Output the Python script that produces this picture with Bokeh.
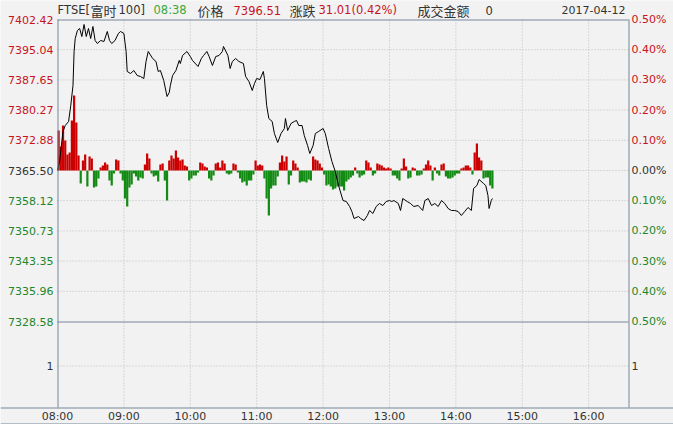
from bokeh.plotting import figure
from bokeh.models import Range1d, ColumnDataSource
from bokeh.core.properties import value
from bokeh.embed import file_html
from bokeh.resources import INLINE

# ---------------- data ----------------
base_price = 7365.50
price_ticks = [7402.42, 7395.04, 7387.65, 7380.27, 7372.88, 7365.50,
               7358.12, 7350.73, 7343.35, 7335.96, 7328.58]
price_labels = ["7402.42", "7395.04", "7387.65", "7380.27", "7372.88", "7365.50",
                "7358.12", "7350.73", "7343.35", "7335.96", "7328.58"]
pct_labels = ["0.50%", "0.40%", "0.30%", "0.20%", "0.10%", "0.00%",
              "0.10%", "0.20%", "0.30%", "0.40%", "0.50%"]
hour_minutes = [0, 60, 120, 180, 240, 300, 360, 420, 480]
hour_labels = ["08:00", "09:00", "10:00", "11:00", "12:00", "13:00", "14:00", "15:00", "16:00"]
volume_label = "1"
session_minutes = 516

# minutes after 08:00 and index level
minutes = [0, 2, 4, 5, 7, 10, 12, 14, 15, 16, 18, 20, 22, 24, 26, 28, 30, 32, 34, 36,
           39, 42, 45, 47, 49, 52, 55, 57, 60, 62, 63, 66, 69, 72, 75, 78, 80, 82, 86, 89,
           91, 93, 96, 99, 101, 102, 104, 107, 110, 111, 113, 117, 120, 122, 127, 130, 132, 135, 137, 140,
           143, 146, 149, 150, 154, 156, 158, 161, 164, 168, 170, 173, 176, 178, 180, 183, 186, 187, 189, 191,
           194, 196, 199, 202, 205, 206, 208, 211, 214, 216, 218, 221, 223, 226, 228, 231, 233, 236, 240, 242,
           245, 248, 251, 254, 258, 261, 264, 266, 268, 272, 274, 277, 280, 282, 285, 288, 291, 294, 297, 300,
           302, 304, 308, 310, 312, 316, 319, 322, 326, 330, 332, 335, 338, 341, 344, 347, 350, 353, 356, 359,
           362, 365, 368, 371, 374, 376, 379, 381, 385, 387, 389, 390, 392, 393]
prices = [7365.50, 7367.95, 7372.84, 7375.04, 7376.50, 7377.48, 7381.39, 7386.28, 7394.60, 7397.77,
          7399.73, 7400.22, 7398.26, 7401.20, 7398.26, 7400.22, 7397.77, 7400.71, 7397.29, 7396.55,
          7397.29, 7397.04, 7399.49, 7397.29, 7396.55, 7397.29, 7399.00, 7399.49, 7399.00, 7394.60,
          7389.71, 7389.22, 7389.95, 7388.73, 7388.48, 7387.99, 7392.15, 7394.60, 7392.88, 7392.15,
          7389.71, 7389.95, 7387.51, 7383.59, 7384.57, 7386.28, 7388.73, 7389.95, 7392.40, 7391.66,
          7393.62, 7394.60, 7393.37, 7392.40, 7390.93, 7392.88, 7393.62, 7394.60, 7393.37, 7391.17,
          7393.37, 7393.62, 7394.60, 7395.82, 7393.62, 7390.44, 7392.15, 7392.88, 7392.15, 7391.66,
          7388.48, 7387.26, 7385.06, 7386.77, 7387.99, 7387.75, 7389.71, 7387.99, 7381.39, 7378.21,
          7377.48, 7374.55, 7372.35, 7374.55, 7375.77, 7378.21, 7375.28, 7376.99, 7377.48, 7377.73,
          7376.50, 7376.50, 7374.06, 7371.61, 7369.66, 7371.61, 7374.55, 7375.04, 7375.77, 7374.55,
          7370.88, 7367.70, 7365.26, 7361.83, 7358.16, 7357.92, 7356.70, 7355.48, 7353.76, 7354.25,
          7353.76, 7353.27, 7354.50, 7355.72, 7354.99, 7356.70, 7357.43, 7356.94, 7357.92, 7358.16,
          7357.92, 7358.16, 7357.43, 7355.72, 7358.65, 7357.92, 7357.43, 7356.70, 7356.94, 7355.72,
          7358.16, 7358.65, 7356.94, 7357.43, 7356.70, 7358.16, 7357.43, 7356.21, 7355.72, 7355.72,
          7355.48, 7354.50, 7355.48, 7356.45, 7355.72, 7361.10, 7361.83, 7363.30, 7362.32, 7361.83,
          7359.39, 7356.21, 7358.16, 7358.65]

# buy/sell strength bars, one per 2-minute slot from 08:00
flow = [40, 24, 45, 30, 16, 18, 50, 75, 48, 15,
        -13, 10, 16, -16, 14, 12, -17, -16, -8, 3,
        5, 8, 6, -10, -15, -3, 11, 10, -3, -10,
        -28, -36, -17, -14, -3, -6, -10, -7, -8, 6,
        17, 12, -3, -6, -5, -11, 6, 7, -10, -30,
        10, 15, 12, 20, 13, 10, 11, 5, 4, -10,
        -8, -5, -5, -2, 8, 7, 4, 3, -8, -10,
        -5, 7, 8, 3, 10, 7, -3, -4, -3, 7,
        6, -2, -8, -12, -11, -15, -10, -10, -4, 10,
        5, 6, 5, -8, -28, -45, -18, -15, -15, -6,
        8, 15, 9, 14, -14, -5, 10, 7, 3, -12,
        -11, -11, -12, -9, -10, 14, 11, 10, 7, 3,
        -4, -15, -14, -16, -19, -18, -16, -16, -16, -20,
        -11, -9, -7, -5, 3, -3, -7, -5, -4, 10,
        8, 3, -5, -3, 7, 6, 5, 3, 2, 3,
        2, -5, -5, -8, -10, 2, 12, 4, -8, -7,
        3, 2, -5, -5, -4, 2, 6, 10, 5, -10,
        3, -3, -5, 6, 7, -6, -8, -8, -7, -5,
        -3, -3, 2, 3, 5, 5, 3, -4, 18, 27,
        13, 10, -8, -7, -7, -15, -18]
flow_slot = 2

header_texts = ["FTSE[", "富时", "100]", "08:38", "价格", "7396.51", "涨跌", "31.01(0.42%)", "成交金额", "0"]
date_text = "2017-04-12"

# ---------------- layout / style ----------------
W, H = 673, 424
FL, FR, FT, FB = 57, 628, 19, 407
MAIN_B = 321
BG = "#f2f2f2"
FRAME_C = "#76879a"
GRID_C = "#bdbdbd"
RED = "#c8141e"
GREEN = "#21862a"
DARK = "#333333"
BAR_RED = "#cc0000"
BAR_GREEN = "#138a13"
FONT = "DejaVu Sans, Noto Sans CJK SC"
CJK = "Noto Sans CJK SC"

px_per_min = (FR - FL) / session_minutes
px_per_price = (MAIN_B - FT) / (price_ticks[0] - price_ticks[-1])


def X(px):
    return (px - FL) / px_per_min


def Y(py):
    return price_ticks[0] - (py - FT) / px_per_price


base_py = FT + (price_ticks[0] - base_price) * px_per_price

p = figure(width=W, height=H, output_backend="svg", toolbar_location=None,
           x_range=Range1d(X(0), X(W)), y_range=Range1d(Y(H), Y(0)),
           x_axis_location=None, y_axis_location=None, min_border=0,
           background_fill_color=BG, border_fill_color=BG, outline_line_color=None)
p.extra_y_ranges = {"flow": Range1d(-(H - base_py), base_py)}
p.grid.visible = False

# dotted grid
hx0, hx1, hy = [], [], []
for v in price_ticks[1:-1]:
    hx0.append(X(FL)); hx1.append(X(FR)); hy.append(v)
hx0.append(X(FL)); hx1.append(X(FR)); hy.append(Y(365.5))
p.segment(x0=hx0, x1=hx1, y0=hy, y1=hy, line_color=GRID_C, line_width=1, line_dash="1 2")
vx = [m for m in hour_minutes[1:]]
p.segment(x0=vx, x1=vx, y0=[Y(FT)] * len(vx), y1=[Y(FB)] * len(vx),
          line_color=GRID_C, line_width=1, line_dash="1 2")

# strength bars
bx = [flow_slot * i + flow_slot / 2 for i in range(len(flow))]
bcol = [BAR_RED if v > 0 else BAR_GREEN for v in flow]
p.vbar(x=bx, top=flow, bottom=0, width=flow_slot, fill_color=bcol, line_color=None,
       y_range_name="flow")

# price line
p.line(minutes, prices, line_color="black", line_width=1)

# frame lines
fx0 = [X(FL), X(FL + 0.5), X(FR + 0.5), X(FL), X(0), X(0)]
fx1 = [X(FR), X(FL + 0.5), X(FR + 0.5), X(FR), X(W), X(W)]
fy0 = [Y(FT + 0.5), Y(FT), Y(FT), Y(MAIN_B + 0.5), Y(FB + 0.5), Y(H - 0.5)]
fy1 = [Y(FT + 0.5), Y(FB), Y(FB), Y(MAIN_B + 0.5), Y(FB + 0.5), Y(H - 0.5)]
p.segment(x0=fx0, x1=fx1, y0=fy0, y1=fy1, line_color=FRAME_C, line_width=1)

# y labels
n = len(price_ticks)
mid = n // 2
lab_col = [RED] * mid + [DARK] + [GREEN] * (n - mid - 1)
left_src = ColumnDataSource(dict(x=[X(FL - 4)] * n + [X(FL - 4)], y=price_ticks + [Y(365)],
                                 t=price_labels + [volume_label], c=lab_col + [DARK]))
p.text(x="x", y="y", text="t", text_color="c", source=left_src, text_align="right",
       text_baseline="middle", text_font=value(FONT), text_font_size=value("11px"))
right_src = ColumnDataSource(dict(x=[X(FR + 3)] * n + [X(FR + 3)], y=price_ticks + [Y(365)],
                                  t=pct_labels + [volume_label], c=lab_col + [DARK]))
p.text(x="x", y="y", text="t", text_color="c", source=right_src, text_align="left",
       text_baseline="middle", text_font=value(FONT), text_font_size=value("11px"))

# x labels
p.text(x=hour_minutes, y=[Y(416)] * len(hour_minutes), text=hour_labels, text_color=DARK,
       text_align="center", text_baseline="middle", text_font=value(FONT),
       text_font_size=value("11px"))

# header
hx = [57, 90, 118, 153, 197, 233, 289, 318, 417, 485]
hcol = [DARK, DARK, DARK, "#3aa83a", DARK, RED, DARK, RED, DARK, DARK]
hfont_cjk = [False, True, False, False, True, False, True, False, True, False]
for t, px, c, cj in zip(header_texts, hx, hcol, hfont_cjk):
    p.text(x=[X(px)], y=[Y(9.5)], text=[t], text_color=c, text_align="left",
           text_baseline="middle", text_font=value(CJK if cj else FONT),
           text_font_size=value("13px" if cj else "11.5px"))
p.text(x=[X(625)], y=[Y(9.5)], text=[date_text], text_color=DARK, text_align="right",
       text_baseline="middle", text_font=value(FONT), text_font_size=value("11px"))

open("out.html", "w").write(file_html(p, INLINE))
